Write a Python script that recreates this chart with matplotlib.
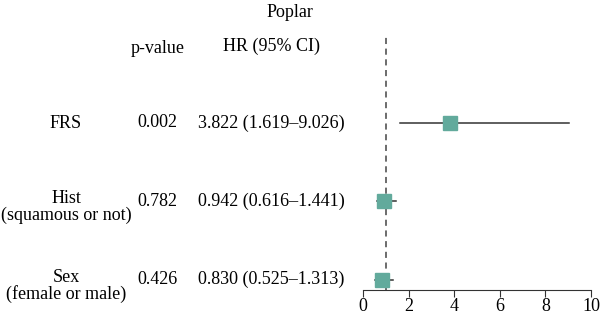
import matplotlib.pyplot as plt
from matplotlib.transforms import blended_transform_factory

plt.rcParams['font.family'] = ['Liberation Serif', 'DejaVu Serif']

labels = ['FRS', 'Hist', 'Sex']
sublabels = ['', '(squamous or not)', '(female or male)']
pvals = ['0.002', '0.782', '0.426']
hr = [3.822, 0.942, 0.830]
lo = [1.619, 0.616, 0.525]
hi = [9.026, 1.441, 1.313]
title = 'Poplar'

rows = [2, 1, 0]
teal = '#62aa9c'
fs = 13

fig = plt.figure(figsize=(6, 3.17), dpi=100)
ax = fig.add_axes([363 / 600, 27 / 317, 228 / 600, 255 / 317])

for y, h, l, u in zip(rows, hr, lo, hi):
    ax.plot([l, u], [y, y], color='#333333', lw=1.1, zorder=2)
    ax.plot(h, y, marker='s', ms=9.5, color=teal, zorder=3, ls='none')

ax.axvline(1, color='#444444', lw=1.1, ls=(0, (4, 3)), zorder=1)

ax.set_xlim(0, 10)
ax.set_ylim(-0.13, 3.12)
ax.set_xticks([0, 2, 4, 6, 8, 10])
ax.set_yticks([])
for s in ['top', 'right', 'left']:
    ax.spines[s].set_visible(False)
ax.spines['bottom'].set_color('#333333')
ax.tick_params(axis='x', labelsize=fs, direction='out', length=5, color='#333333', pad=1)

tr = blended_transform_factory(fig.transFigure, ax.transData)
for y, lab, sub, p, h, l, u in zip(rows, labels, sublabels, pvals, hr, lo, hi):
    ax.text(0.11, y + (0.03 if sub else -0.01), lab, transform=tr, ha='center', va='center',
            fontsize=fs, clip_on=False)
    if sub:
        ax.text(0.11, y - 0.18, sub, transform=tr, ha='center', va='center', fontsize=fs, clip_on=False)
    ax.text(0.262, y, p, transform=tr, ha='center', va='center', fontsize=fs, clip_on=False)
    ax.text(0.452, y, '%.3f (%.3f\u2013%.3f)' % (h, l, u), transform=tr, ha='center', va='center',
            fontsize=fs, clip_on=False)

ax.text(0.262, 2.95, 'p-value', transform=tr, ha='center', va='center', fontsize=fs, clip_on=False)
ax.text(0.452, 2.97, 'HR (95% CI)', transform=tr, ha='center', va='center', fontsize=fs, clip_on=False)
fig.text(0.483, 0.962, title, ha='center', va='center', fontsize=fs)

fig.savefig('out.png', dpi=100, facecolor='white')
